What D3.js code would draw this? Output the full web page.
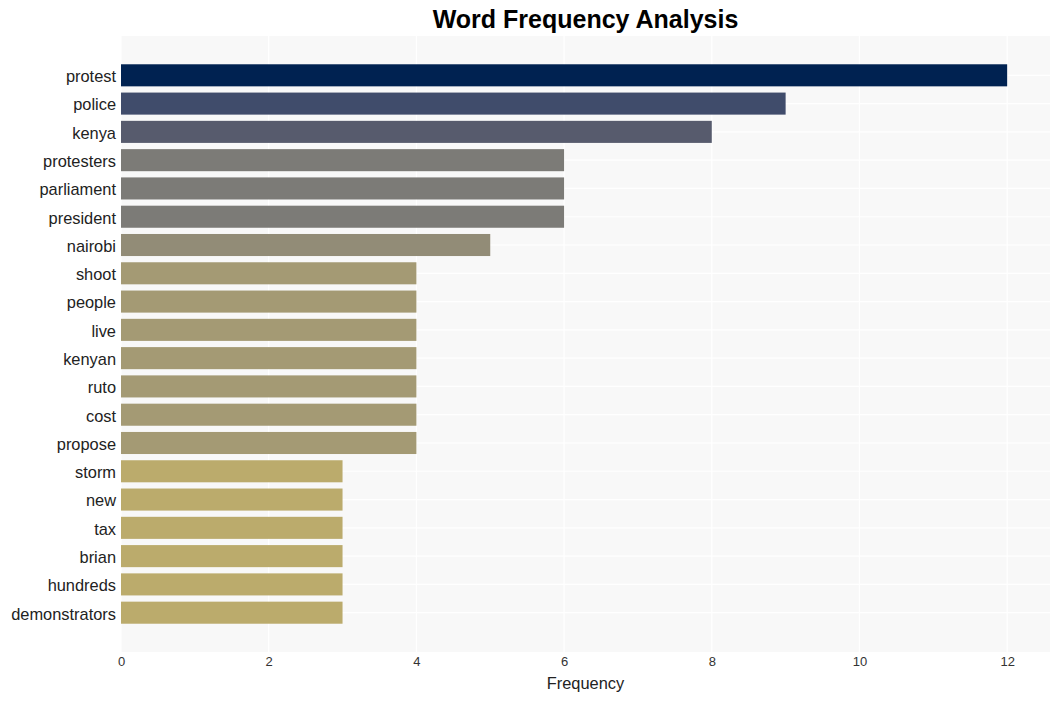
<!DOCTYPE html>
<html><head><meta charset="utf-8">
<script src="https://cdn.jsdelivr.net/npm/d3@7"></script>
<style>body{margin:0;background:#fff;} svg{display:block;}</style>
</head><body>
<svg id="chart" width="1061" height="701"></svg>
<script>
const words = ["protest","police","kenya","protesters","parliament","president","nairobi","shoot","people","live","kenyan","ruto","cost","propose","storm","new","tax","brian","hundreds","demonstrators"];
const counts = [12,9,8,6,6,6,5,4,4,4,4,4,4,4,3,3,3,3,3,3];
const xTicks = [0,2,4,6,8,10,12];
const colorByCount = {12:"#002251",9:"#404c6b",8:"#575b6d",6:"#7c7b77",5:"#928c77",4:"#a49a74",3:"#bbab6c"};

const svg = d3.select("#chart");
const m = {left:121, right:1050, top:36, bottom:652};
const x = d3.scaleLinear().domain([0, 12.58]).range([m.left, m.right]);
const y = d3.scaleBand().domain(words).range([m.top, m.bottom]).paddingInner(0.22).paddingOuter(1.0);

svg.append("rect").attr("x", m.left).attr("y", m.top).attr("width", m.right-m.left).attr("height", m.bottom-m.top).attr("fill", "#f8f8f8");

svg.append("g").selectAll("line").data(xTicks).join("line")
  .attr("x1", d=>x(d)).attr("x2", d=>x(d)).attr("y1", m.top).attr("y2", m.bottom)
  .attr("stroke", "#fff").attr("stroke-width", 1.2);
svg.append("g").selectAll("line").data(words).join("line")
  .attr("x1", m.left).attr("x2", m.right).attr("y1", d=>y(d)+y.bandwidth()/2).attr("y2", d=>y(d)+y.bandwidth()/2)
  .attr("stroke", "#fff").attr("stroke-width", 1.2);

svg.append("g").selectAll("rect").data(words).join("rect")
  .attr("x", x(0)).attr("y", d=>y(d)).attr("height", y.bandwidth())
  .attr("width", (d,i)=>x(counts[i])-x(0))
  .attr("fill", (d,i)=>colorByCount[counts[i]]);

const font = "'Liberation Sans', Arial, sans-serif";
const xAxis = d3.axisBottom(x).tickValues(xTicks).tickSize(0).tickPadding(5).tickFormat(d3.format("d"));
const gx = svg.append("g").attr("transform", `translate(0,${m.bottom})`).call(xAxis);
gx.select(".domain").remove();
gx.selectAll("text").attr("font-family", font).attr("font-size", 13).attr("fill", "#333");

const yAxis = d3.axisLeft(y).tickSize(0).tickPadding(5);
const gy = svg.append("g").attr("transform", `translate(${m.left},0)`).call(yAxis);
gy.select(".domain").remove();
gy.selectAll("text").attr("font-family", font).attr("font-size", 16.4).attr("fill", "#222").attr("dy", "0.42em");

svg.append("text").attr("x", (m.left+m.right)/2).attr("y", 689).attr("text-anchor","middle")
  .attr("font-family", font).attr("font-size", 16.4).attr("fill", "#222").text("Frequency");
svg.append("text").attr("x", (m.left+m.right)/2).attr("y", 28).attr("text-anchor","middle")
  .attr("font-family", font).attr("font-size", 25).attr("font-weight","bold").attr("fill", "#000").text("Word Frequency Analysis");
</script>
</body></html>
